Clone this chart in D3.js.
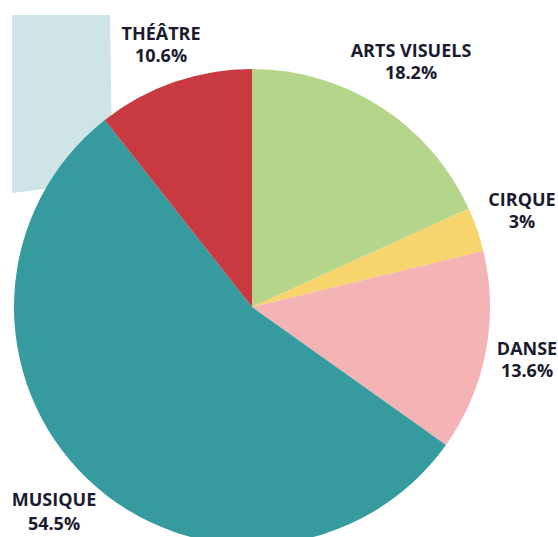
<!DOCTYPE html>
<html><head><meta charset="utf-8">
<script src="https://cdn.jsdelivr.net/npm/d3@7"></script>
<style>body{margin:0;background:#fff}svg{display:block}</style>
</head><body>
<svg id="c" width="558" height="537"></svg>
<script>
const categories = ["ARTS VISUELS", "CIRQUE", "DANSE", "MUSIQUE", "THÉÂTRE"];
const values = [18.2, 3, 13.6, 54.5, 10.6];
const valueLabels = ["18.2%", "3%", "13.6%", "54.5%", "10.6%"];
const colors = ["#b5d58b", "#f8d56c", "#f4b4b6", "#359b9e", "#c93a40"];
const labelPos = [[411, 57, 22], [522, 206, 22], [527, 355, 22], [54, 506, 24], [161, 40, 22]];

const svg = d3.select("#c");
// light blue background shape behind pie
svg.append("path")
  .attr("d", "M12,15 L110,15 L112,150 L60,187 L12,193 Z")
  .attr("fill", "#cfe4e7");

const cx = 252, cy = 307, r = 238;
const data = categories.map((c, i) => ({cat: c, v: values[i], lab: valueLabels[i], color: colors[i], pos: labelPos[i]}));
const pie = d3.pie().value(d => d.v).sort(null);
const arc = d3.arc().innerRadius(0).outerRadius(r);
const g = svg.append("g").attr("transform", `translate(${cx},${cy})`);
g.selectAll("path").data(pie(data)).join("path")
  .attr("d", arc).attr("fill", d => d.data.color);

const lab = svg.append("g")
  .attr("font-family", "'Open Sans', sans-serif")
  .attr("font-weight", "bold")
  .attr("font-size", 18)
  .attr("fill", "#1b1b2f")
  .attr("text-anchor", "middle");
data.forEach(d => {
  const t = lab.append("text").attr("x", d.pos[0]).attr("y", d.pos[1]);
  t.append("tspan").attr("x", d.pos[0]).text(d.cat);
  t.append("tspan").attr("x", d.pos[0]).attr("dy", d.pos[2]).text(d.lab);
});
</script>
</body></html>
